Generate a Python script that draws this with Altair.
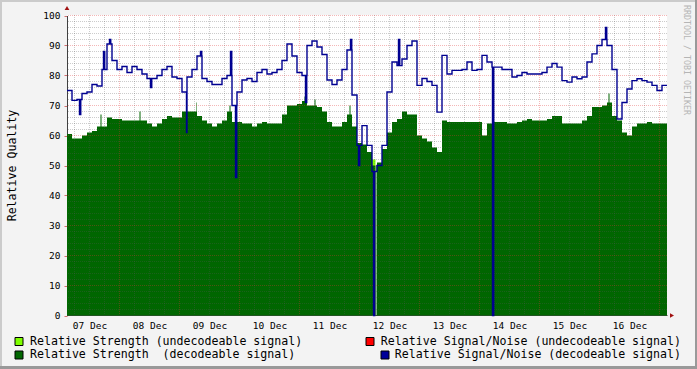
import altair as alt
import pandas as pd

FONT = "DejaVu Sans Mono"
START = 3.0   # hours after 07 Dec 00:00
STEP = 2.0    # hours per sample

# Relative Strength (decodeable signal), one value per 2-hour step
strength = [60.5, 59, 59, 60, 61, 61.5, 63, 63, 66, 65.5,
            65.5, 65, 65, 65, 65, 65, 64, 63, 64, 65.5,
            66.5, 66, 66, 68, 68, 68, 66.5, 65, 64, 63,
            64, 65, 68, 64.5, 64.5, 64, 64, 63, 64, 64.5,
            64, 64, 64, 67, 70, 70, 70.5, 71.5, 70, 70,
            69.5, 68, 64.5, 63, 63, 64.5, 67, 63, 57.5, 57,
            54.5, 50, 51, 55.5, 61, 64.5, 65.5, 68, 67, 67,
            60, 59, 58, 56, 54.5, 65, 64.5, 64.5, 64.5, 64.5,
            64.5, 64.5, 64.5, 60, 64, 64.5, 64.5, 64.5, 64, 64,
            64.5, 65, 65.5, 65, 65, 65, 65.5, 66.5, 66.5, 64,
            64, 64, 64, 65, 66.5, 69.5, 69.5, 70, 71, 66.5,
            65, 61, 60, 63, 64, 64, 64.5, 64, 64, 64]

# Relative Signal/Noise (decodeable signal), one value per 2-hour step
snr = [75, 71.7, 72, 74, 74.5, 77, 76.5, 82, 90.5, 85,
       82, 83, 81, 83, 82, 80.5, 79, 79, 80, 82,
       83, 79.5, 79, 74.5, 79.5, 82, 86.5, 79, 78, 77,
       77, 79, 80, 70, 74.5, 78.5, 79, 78, 81, 82,
       80.5, 81, 82, 85, 90.5, 86.5, 81, 80, 90, 91.5,
       89.5, 87, 78.5, 77, 78.5, 82, 88.5, 73.5, 56.7, 63.3,
       56.7, 48, 50, 56.7, 74.5, 84.5, 83.3, 85.5, 90, 91.5,
       76.7, 79, 78, 76.7, 67.8, 86.7, 80.5, 81.7, 81.7, 82,
       84.5, 81.7, 82, 86.7, 84.5, 82.8, 82.8, 82, 82, 79.5,
       80, 81, 80.5, 80.5, 80.5, 81, 82.8, 84, 82.8, 78.3,
       77.8, 79.5, 78.9, 79.5, 84.5, 87.2, 90, 92, 90, 82,
       65.5, 71, 75.5, 78.3, 78.9, 78.3, 77.8, 76.7, 75, 76.7]

# short excursions (hour, value)
snr_spike_hours = [8.0, 17.6, 20.0, 36.4, 50.8, 56.4, 68.4, 70.4, 98.4,
                   116.4, 119.6, 125.6, 135.6, 173.2, 218.4]
snr_spike_vals = [67, 88, 92, 76, 61, 88, 88, 46, 71,
                  92, 50, 0, 92, 0, 96]
str_spike_hours = [16.4, 32.0, 50.8, 54.8, 68.0, 98.0, 102.0, 116.0, 219.6, 126.4]
str_spike_vals = [67, 68, 70, 71, 70, 73, 72, 70, 74, 0]

# Relative Strength (undecodeable signal)
weak_hours = [125.0, 126.4]
weak_vals = [52, 52]

day_labels = ["07 Dec", "08 Dec", "09 Dec", "10 Dec", "11 Dec",
              "12 Dec", "13 Dec", "14 Dec", "15 Dec", "16 Dec"]
label_hours = [12 + 24 * k for k in range(len(day_labels))]
major_hours = [24 * k for k in range(1, 11)]
minor_hours = [h for h in range(6, 243, 6) if h % 24]
y_ticks = list(range(0, 101, 10))
major_vals = list(range(10, 101, 10))
minor_vals = [v for v in range(2, 100, 2) if v % 10]

legend_items = [
    "Relative Strength (undecodeable signal)",
    "Relative Strength \u00a0(decodeable signal)",
    "Relative Signal/Noise (undecodeable signal)",
    "Relative Signal/Noise (decodeable signal)",
]
legend_colors = ["#7FFF00", "#006600", "#FF0000", "#000099"]


def series(vals, spike_h, spike_v, width=0.5):
    hours = [START + STEP * i for i in range(len(vals))]
    rows = list(zip(hours, vals))

    def base(h):
        i = int((h - START) // STEP)
        return vals[min(max(i, 0), len(vals) - 1)]

    for h, v in zip(spike_h, spike_v):
        rows.append((h, v))
        rows.append((h + width, base(h + width)))
    rows.append((START + STEP * len(vals), vals[-1]))
    rows.sort(key=lambda r: r[0])
    return pd.DataFrame(rows, columns=["hour", "value"])


str_df = series(strength, str_spike_hours, str_spike_vals, 0.4)
snr_df = series(snr, snr_spike_hours, snr_spike_vals, 0.5)
weak_df = pd.DataFrame({"hour": weak_hours, "value": weak_vals})

xscale = alt.Scale(domain=[START, START + STEP * len(strength)], nice=False, zero=False)
yscale = alt.Scale(domain=[0, 100], nice=False, range=[300.5, 0.5])

label_expr = "[" + ",".join("'%s'" % d for d in day_labels) + "][round((datum.value-12)/24)]"

x_axis = alt.Axis(values=label_hours, labelExpr=label_expr, ticks=False, grid=False,
                  domainColor="#404040", labelFont=FONT, labelFontSize=9.5,
                  labelColor="#000000", labelPadding=5, title=None, labelOverlap=False)
y_axis = alt.Axis(values=y_ticks, grid=False, tickColor="#D07070", tickSize=3,
                  labelFont=FONT, labelFontSize=9.5, labelColor="#000000", labelPadding=4,
                  labelOverlap=False,
                  domainColor="#404040", title="Relative Quality", titleFont=FONT,
                  titleFontSize=11.6, titleFontWeight="normal", titleColor="#000000",
                  titleX=-55, titleY=150, titleAngle=270, titleAlign="center",
                  titleBaseline="middle")


def X(field):
    return alt.X(field, scale=xscale, axis=x_axis)


def Y(field):
    return alt.Y(field, scale=yscale, axis=y_axis)


weak_area = alt.Chart(weak_df).mark_area(interpolate="step-after", color="#7FFF00").encode(
    x=X("hour:Q"), y=Y("value:Q"))
str_area = alt.Chart(str_df).mark_area(interpolate="step-after", color="#006600").encode(
    x=X("hour:Q"), y=Y("value:Q"))

dash = [1, 1]
vminor = alt.Chart(pd.DataFrame({"hour": minor_hours})).mark_rule(
    color="#555555", opacity=0.3, strokeDash=dash, strokeWidth=1).encode(x=X("hour:Q"))
vmajor = alt.Chart(pd.DataFrame({"hour": major_hours})).mark_rule(
    color="#E03030", opacity=0.35, strokeDash=dash, strokeWidth=1).encode(x=X("hour:Q"))
hminor = alt.Chart(pd.DataFrame({"v": minor_vals})).mark_rule(
    color="#555555", opacity=0.3, strokeDash=dash, strokeWidth=1).encode(y=Y("v:Q"))
hmajor = alt.Chart(pd.DataFrame({"v": major_vals})).mark_rule(
    color="#E03030", opacity=0.35, strokeDash=dash, strokeWidth=1).encode(y=Y("v:Q"))

snr_line = alt.Chart(snr_df).mark_line(interpolate="step-after", color="#000090",
                                       strokeWidth=1.4).encode(x=X("hour:Q"), y=Y("value:Q"))

one = pd.DataFrame({"k": [0]})
arrow_x = alt.Chart(one).mark_point(shape="triangle-right", filled=True, color="#A01010",
                                    size=22, opacity=1).encode(
    x=alt.value(605), y=alt.value(300.5))
arrow_y = alt.Chart(one).mark_point(shape="triangle-up", filled=True, color="#A01010",
                                    size=22, opacity=1).encode(
    x=alt.value(0), y=alt.value(-7))

watermark = alt.Chart(pd.DataFrame({"t": ["RRDTOOL / TOBI OETIKER"]})).mark_text(
    angle=90, font=FONT, fontSize=8.3, color="#B5B5B5", align="center", baseline="middle"
).encode(x=alt.value(619), y=alt.value(45), text="t:N")

# legend (positions relative to the plot origin at 67,15)
legend_layers = []
leg_pos = [  # (square x, text x, text align, row y)
    (-52, -37, "left", 326.5),
    (-52, -37, "left", 340),
    (299, 614, "right", 326.5),
    (314, 614, "right", 340),
]
for (sx, tx, al, ry), lab, col in zip(leg_pos, legend_items, legend_colors):
    d = pd.DataFrame({"t": [lab]})
    legend_layers.append(
        alt.Chart(d).mark_rect(color=col, stroke="#000000", strokeWidth=1).encode(
            x=alt.value(sx), x2=alt.value(sx + 8), y=alt.value(ry - 4), y2=alt.value(ry + 4)))
    legend_layers.append(
        alt.Chart(d).mark_text(font=FONT, fontSize=11.6, color="#000000", align=al,
                               baseline="middle").encode(
            x=alt.value(tx), y=alt.value(ry), text="t:N"))

# image frame
frame = [
    alt.Chart(one).mark_rect(color="#CBCBCB").encode(
        x=alt.value(-67), x2=alt.value(-65), y=alt.value(-15), y2=alt.value(354)),
    alt.Chart(one).mark_rect(color="#CBCBCB").encode(
        x=alt.value(-67), x2=alt.value(630), y=alt.value(-15), y2=alt.value(-13)),
    alt.Chart(one).mark_rect(color="#999999").encode(
        x=alt.value(628), x2=alt.value(630), y=alt.value(-15), y2=alt.value(354)),
    alt.Chart(one).mark_rect(color="#999999").encode(
        x=alt.value(-67), x2=alt.value(630), y=alt.value(351), y2=alt.value(354)),
]

chart = alt.layer(
    weak_area, str_area, vminor, hminor, vmajor, hmajor, snr_line,
    arrow_x, arrow_y, watermark, *legend_layers, *frame
).properties(
    width=600, height=300,
    padding={"left": 67, "top": 15, "right": 30, "bottom": 54},
    autosize=alt.AutoSizeParams(type="none"),
    background="#F3F3F3",
).configure_view(stroke=None, fill="#FFFFFF")

chart.save("out.html", embed_options={"renderer": "svg", "actions": False})
